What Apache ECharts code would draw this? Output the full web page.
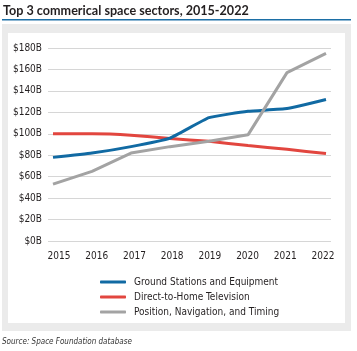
<!DOCTYPE html>
<html><head><meta charset="utf-8">
<script src="https://cdn.jsdelivr.net/npm/echarts@6/dist/echarts.min.js"></script>
<style>html,body{margin:0;padding:0;background:#fff}#c{width:357px;height:351px}</style>
</head><body><div id="c"></div>
<script>
var years = ['2015','2016','2017','2018','2019','2020','2021','2022'];
var groundStations = [78, 82, 88, 96, 115, 121, 123.5, 132];
var directToHome = [100, 100, 98.7, 95.5, 93, 89, 85.5, 81.5];
var pnt = [53, 65, 82, 88, 93, 99, 157, 175];
var yTicks = {min: 0, max: 180, interval: 20};

var chart = echarts.init(document.getElementById('c'));
var F = '"DejaVu Sans Condensed","Liberation Sans Narrow",sans-serif';
var lineCommon = {type: 'line', showSymbol: false, symbol: 'none', smooth: 0.12, xAxisIndex: 0, yAxisIndex: 0};
chart.setOption({
  animation: false,
  backgroundColor: '#fff',
  graphic: [
    {type: 'rect', shape: {x: 2, y: 24, width: 349, height: 307}, style: {fill: '#ebebeb'}, z: -10},
    {type: 'rect', shape: {x: 8, y: 33, width: 337, height: 290}, style: {fill: '#ffffff'}, z: -9},
    {type: 'rect', shape: {x: 2, y: 19, width: 349, height: 1.6}, style: {fill: '#1c6fa6'}, z: -8},
    {type: 'text', left: 3, top: 4, style: {text: 'Top 3 commerical space sectors, 2015-2022', font: 'bold 12.6px Lato,sans-serif', fill: '#231f20'}},
    {type: 'text', left: 2, top: 338, style: {text: 'Source: Space Foundation database', font: 'italic 8px ' + F, fill: '#333'}}
  ],
  color: ['#116aa3', '#e2463f', '#a3a3a3'],
  legend: {
    orient: 'vertical', left: 95, top: 272, itemWidth: 26, itemHeight: 3, itemGap: 5,
    icon: 'roundRect',
    textStyle: {fontFamily: F, fontSize: 10, color: '#231f20', padding: [0, 0, 0, 3]},
    data: ['Ground Stations and Equipment', 'Direct-to-Home Television', 'Position, Navigation, and Timing']
  },
  grid: [
    {left: 53, right: 31, top: 48, bottom: 110},
    {left: 48, right: 26, top: 48, bottom: 110},
    {left: 59, right: 34, top: 48, bottom: 110}
  ],
  xAxis: [
    {type: 'category', gridIndex: 0, data: years, boundaryGap: false, axisLine: {show: false}, axisTick: {show: false}, axisLabel: {show: false}},
    {type: 'category', gridIndex: 1, data: years, boundaryGap: false, show: false},
    {type: 'category', gridIndex: 2, data: years, boundaryGap: false, axisLine: {show: false}, axisTick: {show: false},
      axisLabel: {fontFamily: F, fontSize: 10, color: '#231f20', margin: 10, interval: 0}}
  ],
  yAxis: [
    {type: 'value', gridIndex: 0, min: yTicks.min, max: yTicks.max, interval: yTicks.interval, splitLine: {show: false},
      axisLine: {show: false}, axisTick: {show: false},
      axisLabel: {fontFamily: F, fontSize: 10, color: '#231f20', margin: 11, formatter: function (v) { return '$' + v + 'B'; }}},
    {type: 'value', gridIndex: 1, min: yTicks.min, max: yTicks.max, interval: yTicks.interval,
      axisLine: {show: false}, axisTick: {show: false}, axisLabel: {show: false},
      splitLine: {lineStyle: {color: '#d6d6d6', width: 1}}},
    {type: 'value', gridIndex: 2, min: yTicks.min, max: yTicks.max, interval: yTicks.interval, show: false}
  ],
  series: [
    Object.assign({}, lineCommon, {name: 'Ground Stations and Equipment', data: groundStations, lineStyle: {width: 3}, z: 4}),
    Object.assign({}, lineCommon, {name: 'Direct-to-Home Television', data: directToHome, lineStyle: {width: 3}, z: 3}),
    Object.assign({}, lineCommon, {name: 'Position, Navigation, and Timing', data: pnt, smooth: false, lineStyle: {width: 3}, z: 5})
  ]
});
</script></body></html>
